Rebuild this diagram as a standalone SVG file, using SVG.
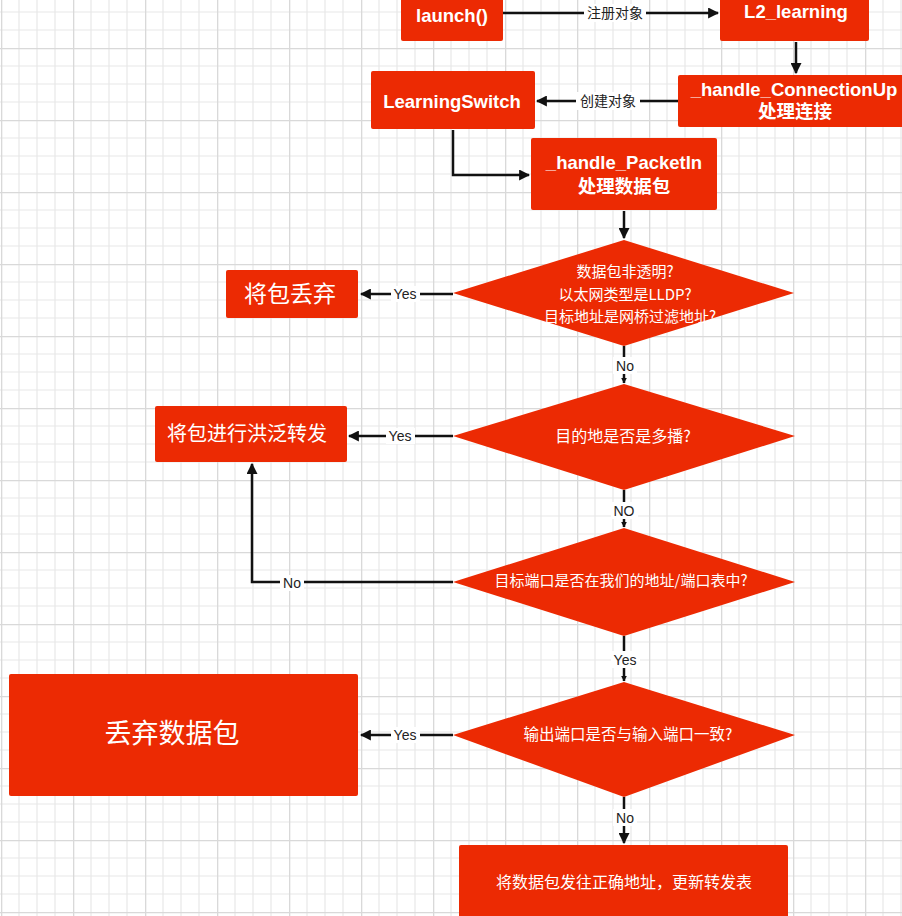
<svg xmlns="http://www.w3.org/2000/svg" width="902" height="916" viewBox="0 0 902 916">
  <defs>
    <pattern id="grid" patternUnits="userSpaceOnUse" x="1" y="48" width="72" height="72">
      <rect width="72" height="72" fill="#ffffff"/>
      <path d="M18,0V72M36,0V72M54,0V72M0,18H72M0,36H72M0,54H72" stroke="#e8e8e8" stroke-width="1.2" fill="none"/>
      <path d="M0.5,0V72M0,0.5H72" stroke="#d9d9d9" stroke-width="1.6" fill="none"/>
    </pattern>
    <marker id="arr" viewBox="0 0 10 10" refX="9" refY="5" markerWidth="4.4" markerHeight="4.4" markerUnits="strokeWidth" orient="auto">
      <path d="M0,0L10,5L0,10z" fill="#111"/>
    </marker>
    <marker id="arrs" viewBox="0 0 10 10" refX="9" refY="5" markerWidth="2.4" markerHeight="2.4" markerUnits="strokeWidth" orient="auto">
      <path d="M0,0L10,5L0,10z" fill="#111"/>
    </marker>
  </defs>
  <style>
    .box{fill:#EC2A03;}
    .en{font-family:"Liberation Sans",Arial,sans-serif;font-weight:bold;font-size:18.5px;fill:#fff;text-anchor:middle;}
    .zh{font-family:"Noto Sans CJK SC","Noto Sans",sans-serif;fill:#fff;text-anchor:middle;}
    .zhb{font-family:"Noto Sans CJK SC","Noto Sans",sans-serif;font-weight:bold;font-size:18.5px;fill:#fff;text-anchor:middle;}
    .ln{fill:none;stroke:#111;stroke-width:2.5;}
    .lbl{font-family:"Liberation Sans",Arial,sans-serif;font-size:14px;fill:#222;text-anchor:middle;}
    .lblzh{font-family:"Noto Sans CJK SC","Noto Sans",sans-serif;font-size:14px;fill:#222;text-anchor:middle;}
    .bg{fill:#ffffff;}
  </style>
  <rect width="902" height="916" fill="url(#grid)"/>

  <g id="connectors">
    <path class="ln" d="M503,13H718" marker-end="url(#arr)"/>
    <path class="ln" d="M796,42V73" marker-end="url(#arr)"/>
    <path class="ln" d="M678,101H537" marker-end="url(#arr)"/>
    <path class="ln" d="M453,130V175H529" marker-end="url(#arr)"/>
    <path class="ln" d="M624,211V238" marker-end="url(#arr)"/>
    <path class="ln" d="M453,294H361" marker-end="url(#arr)"/>
    <path class="ln" d="M624,346V383" marker-end="url(#arrs)"/>
    <path class="ln" d="M453,436H349" marker-end="url(#arr)"/>
    <path class="ln" d="M624,490V527" marker-end="url(#arrs)"/>
    <path class="ln" d="M453,582H252V464" marker-end="url(#arr)"/>
    <path class="ln" d="M624,636V681" marker-end="url(#arrs)"/>
    <path class="ln" d="M453,735H361" marker-end="url(#arr)"/>
    <path class="ln" d="M624,797V843" marker-end="url(#arr)"/>

    <rect class="bg" x="584" y="4" width="62" height="18"/>
    <text class="lblzh" x="615" y="18">注册对象</text>
    <rect class="bg" x="576" y="92" width="64" height="18"/>
    <text class="lblzh" x="608" y="106">创建对象</text>
    <rect class="bg" x="391" y="286" width="29" height="16"/>
    <text class="lbl" x="405" y="299">Yes</text>
    <rect class="bg" x="613" y="357" width="24" height="17"/>
    <text class="lbl" x="625" y="371">No</text>
    <rect class="bg" x="386" y="428" width="29" height="16"/>
    <text class="lbl" x="400" y="441">Yes</text>
    <rect class="bg" x="611" y="502" width="27" height="17"/>
    <text class="lbl" x="624" y="516">NO</text>
    <rect class="bg" x="280" y="575" width="24" height="16"/>
    <text class="lbl" x="292" y="588">No</text>
    <rect class="bg" x="611" y="651" width="29" height="17"/>
    <text class="lbl" x="625" y="665">Yes</text>
    <rect class="bg" x="391" y="727" width="29" height="16"/>
    <text class="lbl" x="405" y="740">Yes</text>
    <rect class="bg" x="613" y="809" width="24" height="17"/>
    <text class="lbl" x="625" y="823">No</text>
  </g>

  <g id="launch">
    <rect class="box" x="401" y="-4" width="102" height="45" rx="2"/>
    <text class="en" x="452" y="21.5">launch()</text>
  </g>
  <g id="l2learning">
    <rect class="box" x="720" y="-4" width="149" height="45" rx="2"/>
    <text class="en" x="796" y="17.5">L2_learning</text>
  </g>
  <g id="connectionup">
    <rect class="box" x="678" y="75" width="226" height="52" rx="2"/>
    <text class="en" x="794" y="95.5">_handle_ConnectionUp</text>
    <text class="zhb" x="795" y="118">处理连接</text>
  </g>
  <g id="learningswitch">
    <rect class="box" x="371" y="71" width="164" height="58" rx="2"/>
    <text class="en" x="452" y="107.5">LearningSwitch</text>
  </g>
  <g id="packetin">
    <rect class="box" x="531" y="138" width="186" height="72" rx="2"/>
    <text class="en" x="624" y="168.5">_handle_PacketIn</text>
    <text class="zhb" x="624" y="193">处理数据包</text>
  </g>
  <g id="decision1">
    <path class="box" d="M624,240L794,293L624,346L453,293z"/>
    <text class="zh" x="625" y="277" font-size="15">数据包非透明?</text>
    <text class="zh" x="625" y="300" font-size="15">以太网类型是LLDP?</text>
    <text class="zh" x="630" y="322" font-size="15">目标地址是网桥过滤地址?</text>
  </g>
  <g id="dropPacket1">
    <rect class="box" x="226" y="270" width="132" height="48" rx="2"/>
    <text class="zh" x="290" y="302" font-size="23">将包丢弃</text>
  </g>
  <g id="decision2">
    <path class="box" d="M624,384L795,436L624,490L453,436z"/>
    <text class="zh" x="623" y="442" font-size="16">目的地是否是多播?</text>
  </g>
  <g id="flood">
    <rect class="box" x="155" y="406" width="192" height="56" rx="2"/>
    <text class="zh" x="247" y="441" font-size="20">将包进行洪泛转发</text>
  </g>
  <g id="decision3">
    <path class="box" d="M624,528L795,582L624,636L453,582z"/>
    <text class="zh" x="621" y="586" font-size="15">目标端口是否在我们的地址/端口表中?</text>
  </g>
  <g id="decision4">
    <path class="box" d="M624,682L795,735L624,797L453,735z"/>
    <text class="zh" x="628" y="740" font-size="15.5">输出端口是否与输入端口一致?</text>
  </g>
  <g id="dropPacket2">
    <rect class="box" x="9" y="674" width="349" height="122" rx="2"/>
    <text class="zh" x="172" y="743" font-size="27">丢弃数据包</text>
  </g>
  <g id="forward">
    <rect class="box" x="459" y="845" width="329" height="75" rx="2"/>
    <text class="zh" x="624" y="888" font-size="16">将数据包发往正确地址，更新转发表</text>
  </g>
</svg>
